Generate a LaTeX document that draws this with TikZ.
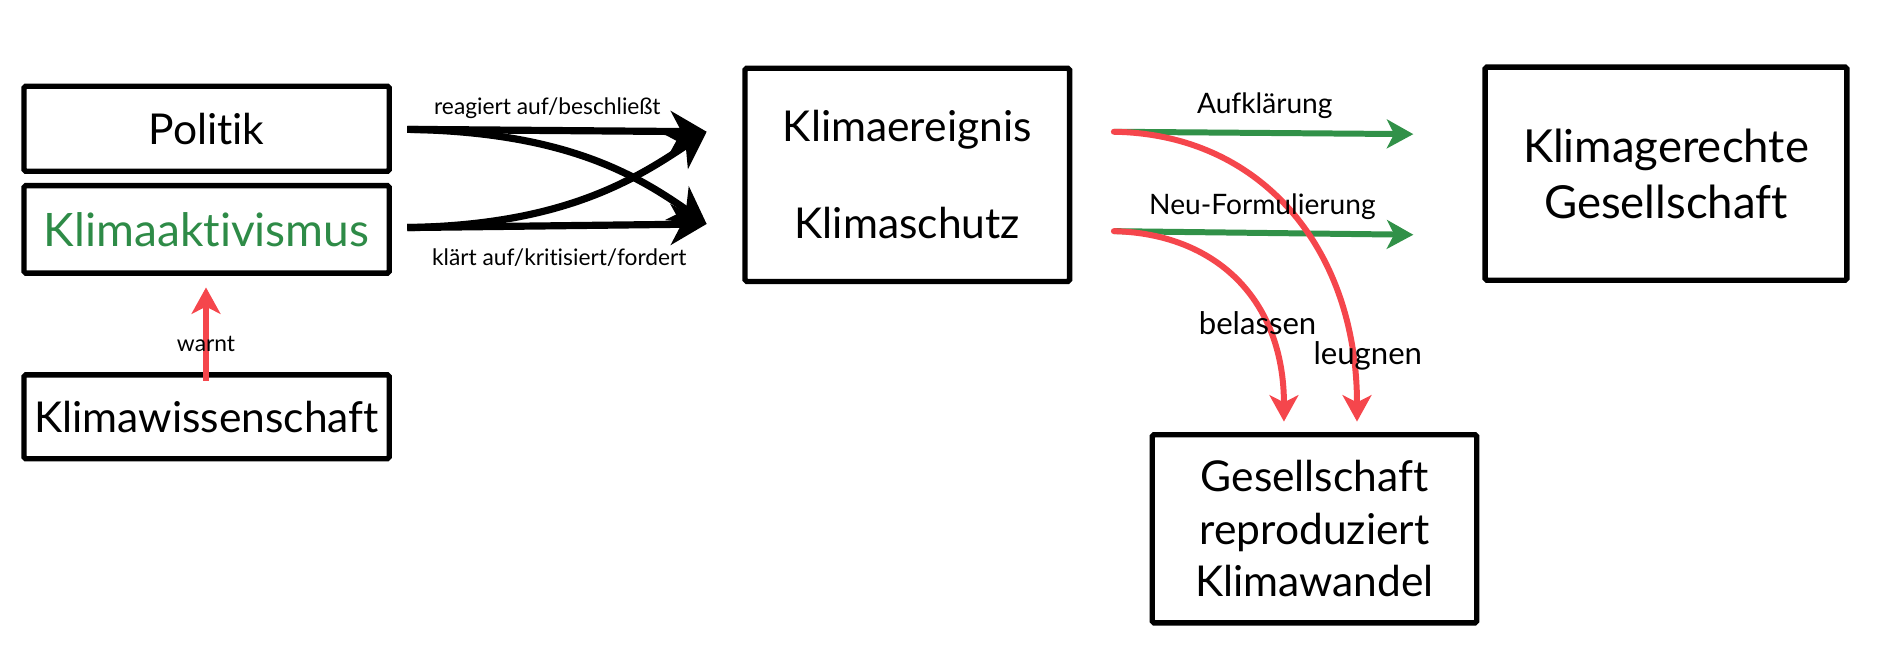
\documentclass[tikz,border=0pt]{standalone}
\usepackage{fontspec}
\setmainfont{Lato}[Ligatures={NoCommon}]
\usetikzlibrary{arrows.meta}
\definecolor{kred}{RGB}{245,70,76}
\definecolor{kgreen}{RGB}{49,145,72}
\definecolor{ktext}{RGB}{46,139,71}
\begin{document}
\begin{tikzpicture}[x=1pt,y=-1pt,
 box/.style={draw=black,line width=4.5pt,rounded corners=1.5pt,inner sep=0pt,font=\fontsize{35.5}{40}\selectfont,align=center},
 blk/.style={draw=black,line width=6pt,-{Stealth[length=30pt,width=34pt,inset=9pt]}},
 grn/.style={draw=kgreen,line width=5pt,-{Stealth[length=22pt,width=24pt,inset=6pt]}},
 rd/.style={draw=kred,line width=5pt,-{Stealth[length=22pt,width=24pt,inset=6pt]}},
 lbl/.style={font=\fontsize{19}{22}\selectfont,inner sep=0pt},
 big/.style={font=\fontsize{23.5}{26}\selectfont,inner sep=0pt},
 bigr/.style={font=\fontsize{26}{28}\selectfont,inner sep=0pt},
]
\useasboundingbox (0,0) rectangle (1568,556);
% boxes
\node[box,minimum width=305pt,minimum height=71pt] (pol) at (172.5,107.5) {Politik};
\node[box,minimum width=305pt,minimum height=73pt,text=ktext,font=\fontsize{38.5}{44}\selectfont] (akt) at (172.5,191.5) {Klimaaktivismus};
\node[box,minimum width=305pt,minimum height=70pt] (wis) at (172.5,348) {Klimawissenschaft};
\node[box,minimum width=271pt,minimum height=178pt,font=\fontsize{35.5}{81}\selectfont] (ke) at (757.5,146) {Klimaereignis\\Klimaschutz};
\node[box,minimum width=302pt,minimum height=178pt,font=\fontsize{38}{47}\selectfont] (kg) at (1391,145) {Klimagerechte\\Gesellschaft};
\node[box,minimum width=271pt,minimum height=157pt,font=\fontsize{35.5}{44}\selectfont] (gr) at (1097.5,441.5) {Gesellschaft\\reproduziert\\Klimawandel};
% coordinates
\coordinate (p1) at (340,108);
\coordinate (p2) at (340,190);
\coordinate (t1) at (590,110);
\coordinate (t2) at (590,187);
\coordinate (g1) at (930,110);
\coordinate (g2) at (930,193);
\coordinate (h1) at (1180,112);
\coordinate (h2) at (1180,196);
\coordinate (r1) at (1133,352);
\coordinate (r2) at (1072,352);
\coordinate (w1) at (172,318);
\coordinate (w2) at (172,240);
% black arrows
\draw[blk] (p1) -- (t1);
\draw[blk] (p2) -- (t2);
\draw[blk] (p1) .. controls (470,110) and (530,145) .. (t2);
\draw[blk] (p2) .. controls (470,188) and (530,150) .. (t1);
\node[lbl] (la) at (457,90) {reagiert auf/beschließt};
\node[lbl] (lb) at (467,215) {klärt auf/kritisiert/fordert};
% green arrows
\draw[grn] (g1) -- (h1);
\draw[grn] (g2) -- (h2);
% red arrows
\draw[rd,line cap=round] (g1) .. controls (1055,112) and (1133,210) .. (r1);
\draw[rd,line cap=round] (g2) .. controls (1015,195) and (1072,250) .. (r2);
\node[big] (lc) at (1056,88) {Aufklärung};
\node[big] (ld) at (1054,173) {Neu-Formulierung};
\node[bigr] (le) at (1050,270) {belassen};
\node[bigr] (lf) at (1142,297) {leugnen};
% warnt
\draw[rd] (w1) -- (w2);
\node[lbl] (lw) at (172,287) {warnt};
\end{tikzpicture}
\end{document}
